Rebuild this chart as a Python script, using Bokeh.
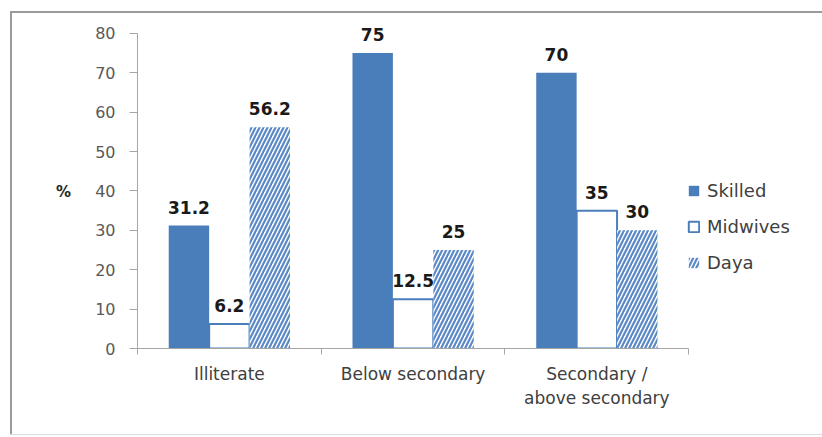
from bokeh.plotting import figure
from bokeh.models import ColumnDataSource, FixedTicker, Legend, LegendItem
from bokeh.embed import file_html
from bokeh.resources import INLINE
from bokeh.core.properties import value

# Delivery attendant by mother's education (%)
categories = ["Illiterate", "Below secondary", "Secondary /\nabove secondary"]
series = ["Skilled", "Midwives", "Daya"]
skilled = [31.2, 75, 70]
midwives = [6.2, 12.5, 35]
daya = [56.2, 25, 30]
y_ticks = [0, 10, 20, 30, 40, 50, 60, 70, 80]

BLUE = "#4a7ebb"
AXIS = "#a6a6a6"
FRAME = "#9a9a9a"
FONT = value("DejaVu Sans")
BAR_W = 0.22
offsets = [-0.22, 0.0, 0.22]

# the plotting area runs past the axes so that value labels and the
# legend are not clipped; the axes themselves stop at their bounds
p = figure(width=822, height=437, x_range=(0, 3.69), y_range=(0, 84.8),
           output_backend="svg", toolbar_location=None,
           min_border_left=137, min_border_right=7,
           min_border_top=14, min_border_bottom=89)
p.outline_line_color = None
p.xgrid.visible = False
p.ygrid.visible = False
p.background_fill_color = "white"
p.border_fill_alpha = 0

# thin grey chart frame behind the canvas
p.styles = {
    "background-color": "white",
    "background-image": ("linear-gradient(%s,%s), linear-gradient(%s,%s), "
                         "linear-gradient(#dcdcdc,#dcdcdc)") % (FRAME, FRAME, FRAME, FRAME),
    "background-size": "2px 423px, 812px 2px, 812px 1px",
    "background-position": "10px 11px, 10px 11px, 10px 434px",
    "background-repeat": "no-repeat",
}

base_x = [i + 0.5 for i in range(len(categories))]
styles = [
    dict(fill_color=BLUE, line_color=None),
    dict(fill_color="white", line_color=BLUE, line_width=2),
    dict(fill_color="white", line_color=None, hatch_pattern="/",
         hatch_color="#5b88c6", hatch_scale=8, hatch_weight=2.2),
]

renderers = []
for vals, off, st in zip([skilled, midwives, daya], offsets, styles):
    src = ColumnDataSource(dict(
        x=[b + off for b in base_x],
        top=vals,
        label=[f"{v:g}" for v in vals],
    ))
    r = p.vbar(x="x", top="top", width=BAR_W, source=src, **st)
    renderers.append(r)
    p.text(x="x", y="top", text="label", source=src, text_align="center",
           text_baseline="bottom", y_offset=-12, text_font=FONT,
           text_font_style="bold", text_font_size="17px",
           text_color="#1a1a1a")

# y axis
ya = p.yaxis[0]
ya.bounds = (0, 80)
ya.ticker = FixedTicker(ticks=y_ticks)
ya.axis_line_color = AXIS
ya.major_tick_line_color = AXIS
ya.major_tick_out = 8
ya.major_tick_in = 0
ya.minor_tick_line_color = None
ya.major_label_text_font = "DejaVu Sans"
ya.major_label_text_font_size = "16px"
ya.major_label_text_color = "#595959"
ya.major_label_standoff = 14
# leading blank line drops the label to the middle of the 0-80 span
ya.axis_label = "\n%"
ya.axis_label_orientation = "horizontal"
ya.axis_label_text_font = "DejaVu Sans"
ya.axis_label_text_font_style = "bold"
ya.axis_label_text_font_size = "15px"
ya.axis_label_text_color = "#262626"
ya.axis_label_standoff = 21

# x axis: labels at category centres, tick marks at category boundaries
xa = p.xaxis[0]
xa.bounds = (0, 3)
xa.ticker = FixedTicker(ticks=base_x,
                        minor_ticks=list(range(len(categories) + 1)))
xa.major_label_overrides = {b: c for b, c in zip(base_x, categories)}
xa.axis_line_color = AXIS
xa.major_tick_line_color = None
xa.minor_tick_line_color = AXIS
xa.minor_tick_out = 6
xa.minor_tick_in = 0
xa.major_label_text_font = "DejaVu Sans"
xa.major_label_text_font_size = "17px"
xa.major_label_text_color = "#404040"
xa.major_label_standoff = 9

legend = Legend(
    items=[LegendItem(label=s, renderers=[r]) for s, r in zip(series, renderers)],
    location=(550, 75), orientation="vertical",
    border_line_color=None, background_fill_alpha=0,
    padding=0, margin=0, spacing=15, label_height=20,
    glyph_height=13, glyph_width=13, label_standoff=7,
    label_text_font="DejaVu Sans", label_text_font_size="18px",
    label_text_color="#404040",
)
p.add_layout(legend)

open("out.html", "w").write(file_html(p, INLINE))
